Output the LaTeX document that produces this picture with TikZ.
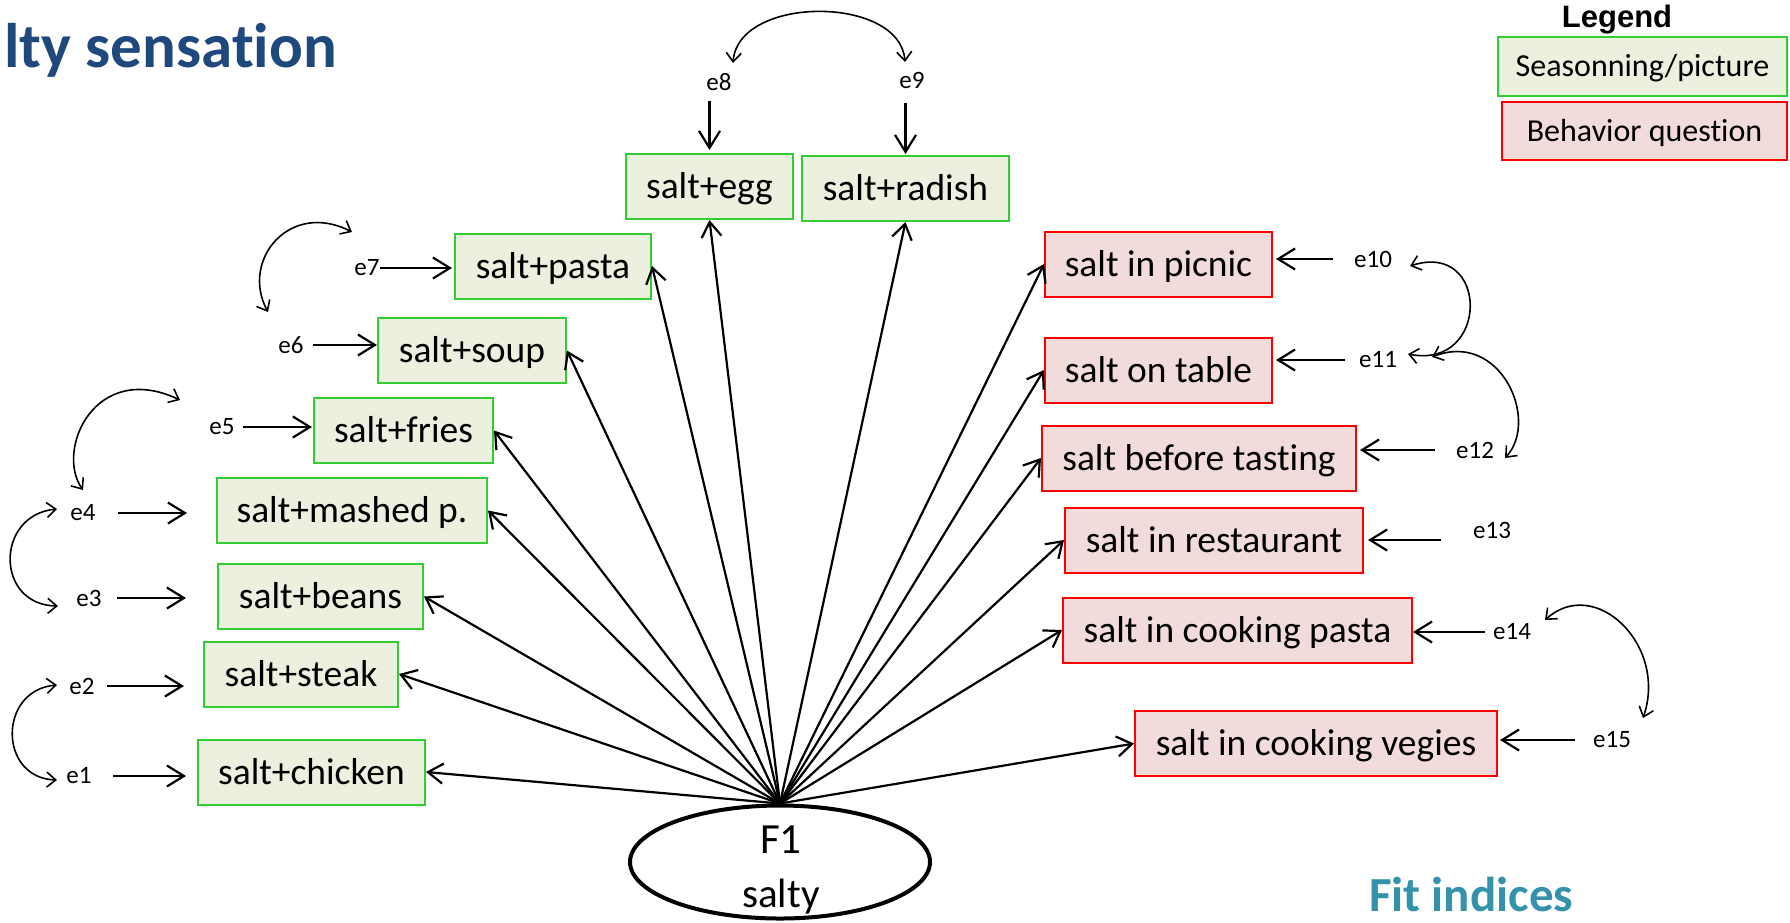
\documentclass[tikz,border=0pt]{standalone}
\usepackage{fontspec}
\setmainfont[Ligatures=NoCommon]{Carlito}
\newfontfamily\legendfont{Liberation Sans}
\usetikzlibrary{arrows.meta,shapes.geometric}

\definecolor{seasonfill}{HTML}{EBF1DE}
\definecolor{seasonline}{HTML}{33CC33}
\definecolor{behavfill}{HTML}{F2DCDB}
\definecolor{behavline}{HTML}{FF0000}
\definecolor{titleblue}{HTML}{1F497D}
\definecolor{fitteal}{HTML}{3592AB}

\tikzset{
  obs/.style={draw, line width=2pt, inner sep=0pt, minimum height=65pt,
    text height=32pt, text depth=8pt, font=\fontsize{37.5}{42}\selectfont},
  seasonbox/.style={obs, draw=seasonline, fill=seasonfill},
  behavbox/.style={obs, draw=behavline, fill=behavfill},
  legendbox/.style={draw, line width=2pt, inner sep=0pt,
    text height=26pt, text depth=6pt, font=\fontsize{32}{36}\selectfont},
  errlabel/.style={inner sep=0pt, font=\fontsize{25}{28}\selectfont},
  load/.style={line width=2.2pt, -{Straight Barb[length=15pt,width=20pt]}},
  errarrow/.style={line width=2.2pt, -{Straight Barb[length=17pt,width=21pt]}},
  covar/.style={line width=1.6pt,
    {Straight Barb[length=9pt,width=15pt]}-{Straight Barb[length=9pt,width=15pt]}},
}

\begin{document}
\begin{tikzpicture}[x=1pt,y=-1pt]
\useasboundingbox (0,0) rectangle (1790,922);

% headings
\node[anchor=base west, inner sep=0pt, text=titleblue,
  font=\fontsize{63}{70}\selectfont\bfseries] (title) at (4,67) {lty sensation};
\node[anchor=base west, inner sep=0pt, text=fitteal,
  font=\fontsize{49}{52}\selectfont\bfseries] (fit) at (1369,911) {Fit indices};

% legend
\node[anchor=base, inner sep=0pt,
  font=\legendfont\bfseries\fontsize{31}{33}\selectfont] (legendtitle) at (1617,27) {Legend};
\node[legendbox, draw=seasonline, fill=seasonfill, minimum width=289pt, minimum height=59pt]
  (legseason) at (1642.5,66.5) {Seasonning/picture};
\node[legendbox, draw=behavline, fill=behavfill, minimum width=285pt, minimum height=58pt]
  (legbehav) at (1644.5,131) {Behavior question};

% latent factor
\node[draw, ellipse, line width=4pt, minimum width=300pt, minimum height=113pt, inner sep=0pt]
  (F1) at (780,862) {};
\node[anchor=base, inner sep=0pt, font=\fontsize{43}{46}\selectfont] (f1name) at (781,853) {F1};
\node[anchor=base, inner sep=0pt, font=\fontsize{41}{44}\selectfont] (f1label) at (781,907) {salty};

% seasoning / picture items
\node[seasonbox, minimum width=167pt] (egg)     at (709.5,186.5) {salt+egg};
\node[seasonbox, minimum width=207pt] (radish)  at (905.5,188.5) {salt+radish};
\node[seasonbox, minimum width=196pt] (pasta)   at (553,266)     {salt+pasta};
\node[seasonbox, minimum width=188pt] (soup)    at (472,350.5)   {salt+soup};
\node[seasonbox, minimum width=179pt] (fries)   at (403.5,430.5) {salt+fries};
\node[seasonbox, minimum width=270pt] (mashed)  at (352,510.5)   {salt+mashed p.};
\node[seasonbox, minimum width=205pt] (beans)   at (320.5,596.5) {salt+beans};
\node[seasonbox, minimum width=194pt] (steak)   at (301,674)     {salt+steak};
\node[seasonbox, minimum width=227pt] (chicken) at (311.5,772)   {salt+chicken};

% behaviour items
\node[behavbox, minimum width=227pt] (picnic)     at (1158.5,264) {salt in picnic};
\node[behavbox, minimum width=227pt] (table)      at (1158.5,370) {salt on table};
\node[behavbox, minimum width=314pt] (tasting)    at (1199,458)   {salt before tasting};
\node[behavbox, minimum width=298pt] (restaurant) at (1214,540)   {salt in restaurant};
\node[behavbox, minimum width=349pt] (cookpasta)  at (1237.5,630) {salt in cooking pasta};
\node[behavbox, minimum width=362pt] (vegies)     at (1316,743.5) {salt in cooking vegies};

% error terms
\node[errlabel] (e1)  at (79,776)   {e1};
\node[errlabel] (e2)  at (82,686)   {e2};
\node[errlabel] (e3)  at (89,598)   {e3};
\node[errlabel] (e4)  at (83,513)   {e4};
\node[errlabel] (e5)  at (222,427)  {e5};
\node[errlabel] (e6)  at (291,345)  {e6};
\node[errlabel] (e7)  at (367,268)  {e7};
\node[errlabel] (e8)  at (719,82)   {e8};
\node[errlabel] (e9)  at (912,80)   {e9};
\node[errlabel] (e10) at (1373,259) {e10};
\node[errlabel] (e11) at (1378,360) {e11};
\node[errlabel] (e12) at (1475,450) {e12};
\node[errlabel] (e13) at (1492,530) {e13};
\node[errlabel] (e14) at (1512,632) {e14};
\node[errlabel] (e15) at (1612,740) {e15};

% loadings
\foreach \item in {chicken,steak,beans,mashed,fries,soup,pasta}
  \draw[load] (F1.north) -- (\item.east);
\foreach \item in {egg,radish}
  \draw[load] (F1.north) -- (\item.south);
\foreach \item in {picnic,table,tasting,restaurant,cookpasta,vegies}
  \draw[load] (F1.north) -- (\item.west);

% error arrows
\draw[errarrow, shorten <=21.5pt, shorten >=11pt] (e1.east) -- (e1.east -| chicken.west);
\draw[errarrow, shorten <=12.5pt, shorten >=19pt] (e2.east) -- (e2.east -| steak.west);
\draw[errarrow, shorten <=15.5pt, shorten >=31pt] (e3.east) -- (e3.east -| beans.west);
\draw[errarrow, shorten <=22.5pt, shorten >=29pt] (e4.east) -- (e4.east -| mashed.west);
\draw[errarrow, shorten <=8.5pt, shorten >=1pt]   (e5.east) -- (e5.east -| fries.west);
\draw[errarrow, shorten <=9.5pt]                  (e6.east) -- (e6.east -| soup.west);
\draw[errarrow, shorten <=0.5pt, shorten >=2pt]   (e7.east) -- (e7.east -| pasta.west);
\draw[errarrow, shorten <=10pt, shorten >=3pt]    (egg.north |- e8.south) -- (egg.north);
\draw[errarrow, shorten <=15pt, shorten >=1pt]    (radish.north |- e9.south) -- (radish.north);
\draw[errarrow, shorten <=21pt, shorten >=3pt]    (e10.west) -- (e10.west -| picnic.east);
\draw[errarrow, shorten <=14pt, shorten >=3pt]    (e11.west) -- (e11.west -| table.east);
\draw[errarrow, shorten <=21pt, shorten >=3pt]    (e12.west) -- (e12.west -| tasting.east);
\draw[errarrow, shorten <=32pt, shorten >=4pt]    (e13.west |- restaurant.east) -- (restaurant.east);
\draw[errarrow, shorten <=8pt]                    (e14.west) -- (e14.west -| cookpasta.east);
\draw[errarrow, shorten <=18pt, shorten >=2pt]    (e15.west) -- (e15.west -| vegies.east);

% error covariances
\draw[covar] ([shift={(14,-19)}]e8.center) .. controls +(5,-68) and +(-5,-67) .. ([shift={(-7,-18)}]e9.center);
\draw[covar] ([shift={(-23,-33)}]e6.center) .. controls +(-28,-52) and +(-62,-32) .. ([shift={(-15,-36)}]e7.center);
\draw[covar] ([shift={(0,-23)}]e4.center) .. controls +(-28,-40) and +(-85,-40) .. ([shift={(-42,-27)}]e5.center);
\draw[covar] ([shift={(-26,-4)}]e4.center) .. controls +(-62,6) and +(-63,-1) .. ([shift={(-31,8)}]e3.center);
\draw[covar] ([shift={(-25,-1)}]e2.center) .. controls +(-59,5) and +(-59,-2) .. ([shift={(-22,4)}]e1.center);
\draw[covar] ([shift={(37,7)}]e10.center) .. controls +(80,-26) and +(82,16) .. ([shift={(30,-6)}]e11.center);
\draw[covar] ([shift={(54,-3)}]e11.center) .. controls +(68,-27) and +(35,-38) .. ([shift={(30,8)}]e12.center);
\draw[covar] ([shift={(33,-12)}]e14.center) .. controls +(50,-45) and +(25,-73) .. ([shift={(31,-22)}]e15.center);
\end{tikzpicture}
\end{document}
